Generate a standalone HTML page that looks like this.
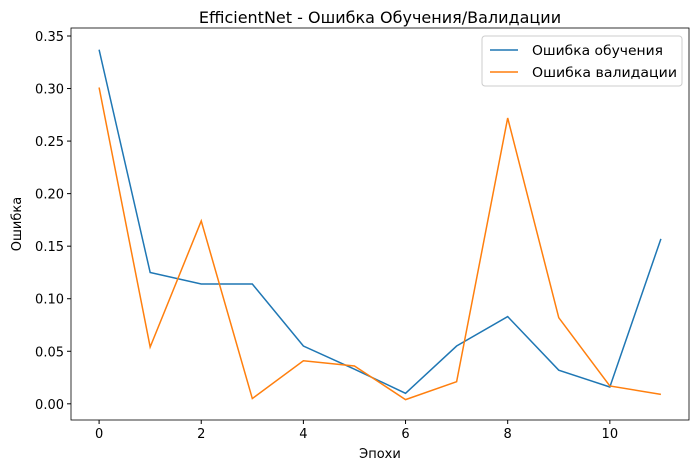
<!DOCTYPE html>
<html><head><meta charset="utf-8"><style>
body{margin:0;background:#fff;}
svg{font-family:"DejaVu Sans","Liberation Sans",sans-serif;}
</style></head><body>
<svg id="chart" width="700" height="470" xmlns="http://www.w3.org/2000/svg"></svg>
<script>
const epochs=[0,1,2,3,4,5,6,7,8,9,10,11];
const trainLoss=[0.337,0.125,0.114,0.114,0.055,0.033,0.010,0.055,0.083,0.032,0.016,0.157];
const valLoss=[0.301,0.054,0.174,0.005,0.041,0.036,0.004,0.021,0.272,0.082,0.017,0.009];
const xTicks=[0,2,4,6,8,10];
const yTicks=[0,0.05,0.1,0.15,0.2,0.25,0.3,0.35];
const NS="http://www.w3.org/2000/svg";
const svg=document.getElementById('chart');
const L=71,R=689,T=28,B=420;
const x0=-0.55,x1=11.55,y0=-0.0154,y1=0.3576;
function sx(v){return L+(v-x0)/(x1-x0)*(R-L);}
function sy(v){return B-(v-y0)/(y1-y0)*(B-T);}
function mk(tag,attrs){const e=document.createElementNS(NS,tag);for(const k in attrs)e.setAttribute(k,attrs[k]);svg.appendChild(e);return e;}
let t=mk('text',{x:(L+R)/2,y:23,'text-anchor':'middle','font-size':'16'});t.textContent='EfficientNet - Ошибка Обучения/Валидации';


xTicks.forEach(v=>{
 const l=mk('line',{x1:sx(v),x2:sx(v),y1:B,y2:B+4,stroke:'#000'});
 
 
 const tx=mk('text',{x:sx(v),y:B+18,'text-anchor':'middle','font-size':'13'});tx.textContent=v;
 
 
});
yTicks.forEach(v=>{
 const l=mk('line',{x1:L-4,x2:L,y1:sy(v),y2:sy(v),stroke:'#000'});
 
 
 const tx=mk('text',{x:L-7,y:sy(v)+5,'text-anchor':'end','font-size':'13'});tx.textContent=v.toFixed(2);
 
 
});
t=mk('text',{x:(L+R)/2,y:458,'text-anchor':'middle','font-size':'13'});t.textContent='Эпохи';


t=mk('text',{x:21,y:(T+B)/2,'text-anchor':'middle','font-size':'13',transform:`rotate(-90 21 ${(T+B)/2})`});t.textContent='Ошибка';


function series(vals,color,name){
 const p=mk('polyline',{points:vals.map((v,i)=>sx(epochs[i])+','+sy(v)).join(' '),fill:'none',stroke:color,'stroke-width':'1.5'});
 
 
}
series(trainLoss,'#1f77b4','train-loss-line');
series(valLoss,'#ff7f0e','validation-loss-line');
const fr=mk('rect',{x:L,y:T,width:R-L,height:B-T,fill:'none',stroke:'#000','stroke-width':'0.8'});


const lg=mk('rect',{x:482,y:36,width:200,height:50,fill:'#fff',stroke:'#ccc',rx:3});


[['Ошибка обучения','#1f77b4',50],['Ошибка валидации','#ff7f0e',72]].forEach(([lab,c,y])=>{
 const l=mk('line',{x1:490,x2:518,y1:y,y2:y,stroke:c,'stroke-width':'1.5'});
 
 
 const tx=mk('text',{x:532,y:y+5,'font-size':'13','textLength':'145','lengthAdjust':'spacingAndGlyphs'});tx.textContent=lab;
 if(lab==='Ошибка обучения') tx.setAttribute('textLength','131');
 
 
});
</script>
</body></html>
